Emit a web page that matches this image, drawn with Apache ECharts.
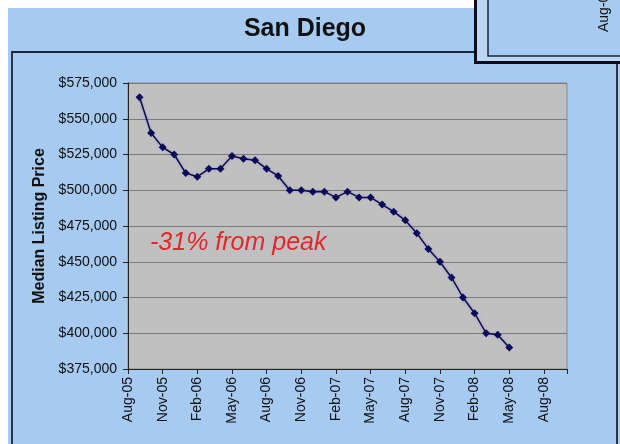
<!DOCTYPE html>
<html>
<head>
<meta charset="utf-8">
<script src="https://cdn.jsdelivr.net/npm/echarts@6/dist/echarts.min.js"></script>
<style>
html, body { margin: 0; padding: 0; background: #fff; }
#chart { width: 620px; height: 444px; }
</style>
</head>
<body>
<div id="chart"></div>
<script>
// median listing price, one point per month, Sep-05 .. May-08
const prices = [
  565000, 540000, 530000, 525000, 512000, 509500, 515000, 515000, 524000, 522000, 521000,
  515000, 510000, 500000, 500000, 499000, 499000, 495000, 499000, 495000, 495000, 490000,
  485000, 479000, 470000, 459000, 450000, 439000, 425000, 414000, 400000, 399000, 390000
]
const firstMonth = 1 // months after Aug-05
const tickLabels = ['Aug-05', 'Nov-05', 'Feb-06', 'May-06', 'Aug-06', 'Nov-06', 'Feb-07',
  'May-07', 'Aug-07', 'Nov-07', 'Feb-08', 'May-08', 'Aug-08']
const yMin = 375000
const yMax = 575000
const yStep = 25000
const titleText = 'San Diego'
const yName = 'Median Listing Price'
const note = '-31% from peak'

const FONT = "'Liberation Sans', Arial, sans-serif"
const BLUE = '#a6caf0'
const FRAME = '#1c2438'

let chart = echarts.init(document.getElementById('chart'))

const option = {
  backgroundColor: BLUE,
  animation: false,
  textStyle: { fontFamily: FONT },
  grid: {
    left: 128, right: 53, top: 83, bottom: 75,
    show: true,
    backgroundColor: '#c0c0c0',
    borderColor: '#8a8a8a',
    borderWidth: 1,
    outerBoundsMode: 'none'
  },
  xAxis: {
    type: 'value',
    min: 0,
    max: 38,
    interval: 3,
    axisLine: { lineStyle: { color: '#222', width: 1 } },
    axisTick: { show: true, length: 5, lineStyle: { color: '#222' } },
    splitLine: { show: false },
    axisLabel: {
      rotate: 90,
      margin: 8,
      fontSize: 14,
      color: '#111',
      fontFamily: FONT,
      formatter: v => (v % 3 === 0 && tickLabels[v / 3]) ? tickLabels[v / 3] : ''
    }
  },
  yAxis: {
    type: 'value',
    min: yMin,
    max: yMax,
    interval: yStep,
    name: yName,
    nameLocation: 'middle',
    nameGap: 73,
    nameTextStyle: { fontSize: 16, fontWeight: 'bold', color: '#111', fontFamily: FONT },
    axisLine: { show: true, lineStyle: { color: '#222', width: 1 } },
    axisTick: { show: true, length: 5, lineStyle: { color: '#222' } },
    splitLine: { show: true, lineStyle: { color: '#7a7a7a', width: 1 } },
    axisLabel: {
      margin: 11,
      fontSize: 14,
      color: '#111',
      fontFamily: FONT,
      formatter: v => '$' + v.toLocaleString('en-US')
    }
  },
  series: [
    {
      type: 'line',
      data: prices.map((p, i) => [firstMonth + i, p]),
      symbol: 'diamond',
      symbolSize: 8,
      itemStyle: { color: '#0a0a5c' },
      lineStyle: {
        color: '#0c0c40', width: 1.5,
        shadowColor: 'rgba(130,120,230,0.7)', shadowBlur: 3
      },
      z: 3
    }
  ],
  graphic: [
    // white page edge around the blue panel
    { type: 'rect', shape: { x: 0, y: 0, width: 620, height: 8 }, style: { fill: '#fff' }, z: 100 },
    { type: 'rect', shape: { x: 0, y: 0, width: 8, height: 444 }, style: { fill: '#fff' }, z: 100 },
    // chart frame
    { type: 'rect', shape: { x: 12, y: 52, width: 605, height: 420 },
      style: { fill: null, stroke: FRAME, lineWidth: 1.8 }, z: 100 },
    // overlapping neighbour chart in the corner
    { type: 'rect', shape: { x: 474, y: -10, width: 160, height: 74 }, style: { fill: '#0c0c18' }, z: 101 },
    { type: 'rect', shape: { x: 477, y: -10, width: 160, height: 71 }, style: { fill: '#bcd6f2' }, z: 101 },
    { type: 'rect', shape: { x: 488, y: -10, width: 160, height: 66 },
      style: { fill: BLUE, stroke: FRAME, lineWidth: 1.5 }, z: 101 },
    { type: 'text', x: 604, y: 32, rotation: Math.PI / 2, z: 102,
      style: { text: 'Aug-08', fontSize: 14, fontFamily: FONT, fill: '#111',
        align: 'left', verticalAlign: 'middle' } },
    // title
    { type: 'text', x: 305, y: 29, z: 102,
      style: { text: titleText, fontSize: 25, fontWeight: 'bold', fontFamily: FONT, fill: '#111',
        align: 'center', verticalAlign: 'middle' } },
    // note
    { type: 'text', x: 150, y: 243, z: 102,
      style: { text: note, fontSize: 25, fontStyle: 'italic', fontFamily: FONT, fill: '#e4262c',
        align: 'left', verticalAlign: 'middle' } }
  ]
}
chart.setOption(option)
window.addEventListener('resize', () => chart.resize())
</script>
</body>
</html>
